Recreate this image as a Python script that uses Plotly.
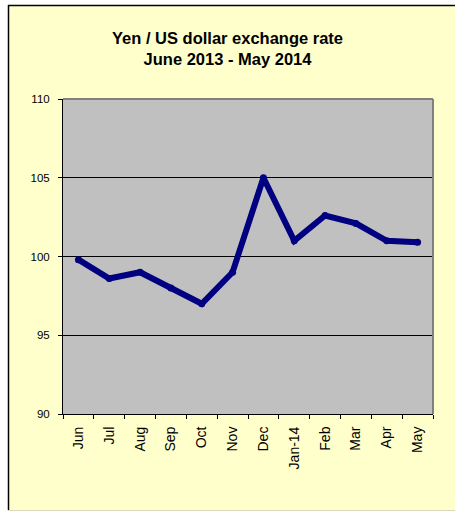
import plotly.graph_objects as go

months = ["Jun", "Jul", "Aug", "Sep", "Oct", "Nov", "Dec", "Jan-14", "Feb", "Mar", "Apr", "May"]
yen_per_usd = [99.8, 98.6, 99.0, 98.0, 97.0, 99.0, 105.0, 101.0, 102.6, 102.1, 101.0, 100.9]
y_ticks = [90, 95, 100, 105, 110]

FONT = "Liberation Sans, Arial, sans-serif"
W, H = 455, 511
L, R, T, B = 63, 22, 99, 97
pw, ph = W - L - R, H - T - B

def px_x(x):
    return (x - L) / pw

def px_y(y):
    return (H - B - y) / ph

fig = go.Figure()
fig.add_trace(go.Scatter(
    x=months, y=yen_per_usd, mode="lines+markers",
    line=dict(color="#000080", width=6),
    marker=dict(color="#000080", size=7),
    showlegend=False, hoverinfo="x+y",
))

fig.update_layout(
    width=W, height=H,
    margin=dict(l=L, r=R, t=T, b=B, autoexpand=False),
    paper_bgcolor="#FFFFCC",
    plot_bgcolor="#C0C0C0",
    font=dict(family=FONT, size=12, color="black"),
    title=dict(
        text="<b>Yen / US dollar exchange rate<br>June 2013 - May 2014</b>",
        x=0.5, xref="container", xanchor="center",
        y=(H - 44) / H, yref="container", yanchor="middle",
        font=dict(family=FONT, size=16.5, color="black"),
    ),
    xaxis=dict(
        type="category", range=[-0.5, 11.5],
        tickson="boundaries", ticks="outside", ticklen=4, tickcolor="black",
        tickangle=-90, showgrid=False, showline=True, linecolor="black", linewidth=1,
        tickfont=dict(family=FONT, size=14), ticklabelstandoff=6,
        fixedrange=True,
    ),
    yaxis=dict(
        range=[90, 110], tickvals=y_ticks, ticktext=[str(v) for v in y_ticks],
        ticks="outside", ticklen=4, tickcolor="black",
        showgrid=True, gridcolor="black", gridwidth=1,
        showline=True, linecolor="black", linewidth=1, zeroline=False,
        tickfont=dict(family=FONT, size=11.5), ticklabelstandoff=6,
        fixedrange=True,
    ),
    shapes=[
        # gray plot-area border (top / right)
        dict(type="line", xref="paper", yref="paper", x0=0, x1=1, y0=1, y1=1,
             line=dict(color="#808080", width=2), layer="above"),
        dict(type="line", xref="paper", yref="paper", x0=1, x1=1, y0=0, y1=1,
             line=dict(color="#808080", width=2), layer="above"),
        # white page margin outside the chart frame
        dict(type="rect", xref="paper", yref="paper", x0=px_x(-5), x1=px_x(8), y0=px_y(520), y1=px_y(-5),
             fillcolor="white", line=dict(width=0), layer="above"),
        dict(type="rect", xref="paper", yref="paper", x0=px_x(-5), x1=px_x(460), y0=px_y(5), y1=px_y(-5),
             fillcolor="white", line=dict(width=0), layer="above"),
        # black frame edges (left, top)
        dict(type="line", xref="paper", yref="paper", x0=px_x(8.5), x1=px_x(8.5), y0=px_y(510), y1=px_y(5),
             line=dict(color="black", width=1.5), layer="above"),
        dict(type="line", xref="paper", yref="paper", x0=px_x(8), x1=px_x(460), y0=px_y(5.5), y1=px_y(5.5),
             line=dict(color="black", width=1.5), layer="above"),
        dict(type="line", xref="paper", yref="paper", x0=px_x(8), x1=px_x(460), y0=px_y(510.5), y1=px_y(510.5),
             line=dict(color="#D8D8C0", width=1), layer="above"),
    ],
)

fig.write_html(
    "out.html",
    config={"displayModeBar": False},
    post_script="document.body.style.margin='0';document.body.style.overflow='hidden';",
)
